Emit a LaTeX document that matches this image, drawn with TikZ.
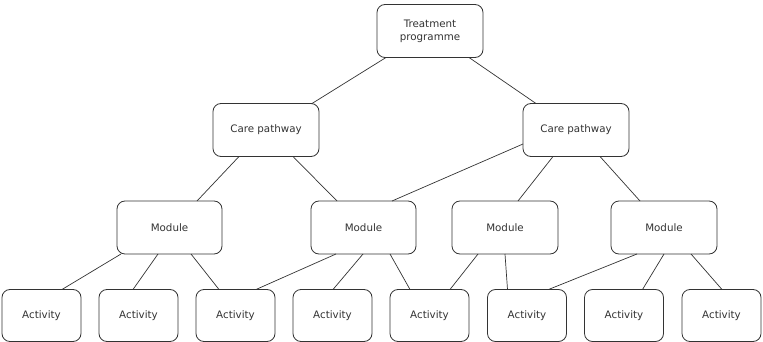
\documentclass[tikz,border=0pt]{standalone}
\usepackage{fontspec}
\setmainfont{DejaVu Sans}
\definecolor{edge}{HTML}{333333}
\definecolor{txt}{HTML}{333333}
\begin{document}
\begin{tikzpicture}[x=1pt,y=-1pt,
  box/.style={draw=edge,line width=0.8pt,rounded corners=8pt,fill=white,inner sep=0pt,outer sep=0pt,
    text=txt,font=\fontsize{10.3}{13}\selectfont,align=center,anchor=center},
  bigbox/.style={box,minimum width=106pt,minimum height=53pt},
  actbox/.style={box,minimum width=79pt,minimum height=52pt},
  link/.style={draw=edge,line width=0.7pt}]
\useasboundingbox (0,0) rectangle (763,342);
\node[bigbox] (tp) at (430,31) {Treatment\\programme};
\node[bigbox] (cp1) at (266,130) {Care pathway};
\node[bigbox] (cp2) at (576,130) {Care pathway};
\node[bigbox,minimum width=105pt] (m1) at (169.5,227.5) {Module};
\node[bigbox,minimum width=105pt] (m2) at (363.5,227.5) {Module};
\node[bigbox,minimum width=106pt] (m3) at (505,227.5) {Module};
\node[bigbox,minimum width=106pt] (m4) at (664,227.5) {Module};
\node[actbox] (a1) at (41.5,315.5) {Activity};
\node[actbox] (a2) at (138.5,315.5) {Activity};
\node[actbox] (a3) at (235.5,315.5) {Activity};
\node[actbox] (a4) at (332.5,315.5) {Activity};
\node[actbox] (a5) at (429.5,315.5) {Activity};
\node[actbox] (a6) at (527,315.5) {Activity};
\node[actbox] (a7) at (624,315.5) {Activity};
\node[actbox] (a8) at (721.5,315.5) {Activity};
\draw[link] ([xshift=9pt]tp.south west) -- ([xshift=99pt]cp1.north west);
\draw[link] ([xshift=92pt]tp.south west) -- ([xshift=13pt]cp2.north west);
\draw[link] ([xshift=26pt]cp1.south west) -- ([xshift=80pt]m1.north west);
\draw[link] ([xshift=80pt]cp1.south west) -- ([xshift=26pt]m2.north west);
\draw[link] ([yshift=-14pt]cp2.west) -- ([xshift=81pt]m2.north west);
\draw[link] ([xshift=30pt]cp2.south west) -- ([xshift=66pt]m3.north west);
\draw[link] ([xshift=77pt]cp2.south west) -- ([xshift=29pt]m4.north west);
\draw[link] ([xshift=4pt]m1.south west) -- ([xshift=60pt]a1.north west);
\draw[link] ([xshift=41pt]m1.south west) -- ([xshift=34pt]a2.north west);
\draw[link] ([xshift=74pt]m1.south west) -- ([xshift=23pt]a3.north west);
\draw[link] ([xshift=25pt]m2.south west) -- ([xshift=60pt]a3.north west);
\draw[link] ([xshift=52pt]m2.south west) -- ([xshift=40pt]a4.north west);
\draw[link] ([xshift=79pt]m2.south west) -- ([xshift=20pt]a5.north west);
\draw[link] ([xshift=26pt]m3.south west) -- ([xshift=60pt]a5.north west);
\draw[link] ([xshift=53pt]m3.south west) -- ([xshift=20pt]a6.north west);
\draw[link] ([xshift=26pt]m4.south west) -- ([xshift=61pt]a6.north west);
\draw[link] ([xshift=53pt]m4.south west) -- ([xshift=58pt]a7.north west);
\draw[link] ([xshift=80pt]m4.south west) -- ([xshift=40pt]a8.north west);
\end{tikzpicture}
\end{document}
